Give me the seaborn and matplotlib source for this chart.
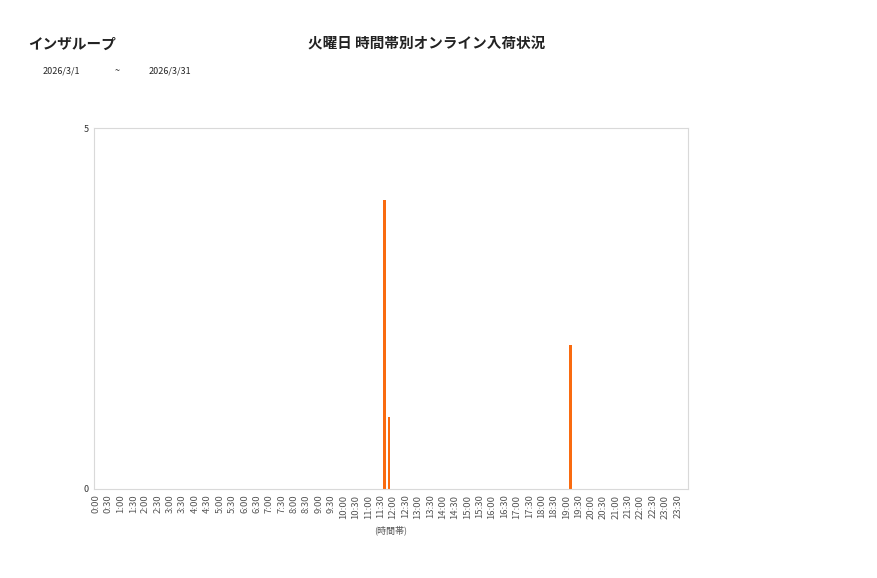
import pandas as pd
import matplotlib
matplotlib.use("Agg")
import matplotlib.pyplot as plt
import seaborn as sns

# 10-minute time slots for the whole day
slots = [f"{m // 60}:{m % 60:02d}" for m in range(0, 24 * 60, 10)]
# arrivals per slot (only non-zero slots)
hit_slots = ["11:40", "11:50", "19:10"]
hit_counts = [4, 1, 2]

counts = [0] * len(slots)
for s, c in zip(hit_slots, hit_counts):
    counts[slots.index(s)] = c

tick_labels = [f"{m // 60}:{m % 60:02d}" for m in range(0, 24 * 60, 30)]

df = pd.DataFrame({"slot": slots, "count": counts})

sns.set_theme(style="white")
plt.rcParams['font.family'] = ['Noto Sans CJK JP', 'DejaVu Sans']

fig = plt.figure(figsize=(8.77, 5.78), dpi=100)
ax = fig.add_axes([0.1072, 0.154, 0.6773, 0.6245])

sns.barplot(data=df, x="slot", y="count", color="#F96B10", width=0.7,
            saturation=1, linewidth=0, ax=ax)

ax.set_ylim(0, 5)
ax.set_yticks([0, 5])
ax.set_yticklabels(["0", "5"], fontsize=6.5, color="#333333")
ax.set_xlim(-0.5, len(slots) - 0.5)
ax.set_xticks([slots.index(t) for t in tick_labels])
ax.set_xticklabels(tick_labels, rotation=90, fontsize=6.8, color="#555555")
ax.tick_params(axis="both", length=0, pad=4)
ax.set_ylabel("")
ax.set_xlabel("(時間帯)", fontsize=6.5, color="#555555", labelpad=5)
for sp in ax.spines.values():
    sp.set_color("#d9d9d9")
    sp.set_linewidth(0.8)

fig.text(0.032, 0.925, "インザループ", fontsize=10.5, fontweight="bold",
         color="#222222", va="center")
fig.text(0.487, 0.925, "火曜日 時間帯別オンライン入荷状況", fontsize=10.5,
         fontweight="bold", color="#222222", ha="center", va="center")
fig.text(0.048, 0.878, "2026/3/1", fontsize=6.5, va="center")
fig.text(0.131, 0.878, "~", fontsize=6.5, va="center")
fig.text(0.169, 0.878, "2026/3/31", fontsize=6.5, va="center")

fig.savefig("out.png", dpi=100, facecolor="white")
